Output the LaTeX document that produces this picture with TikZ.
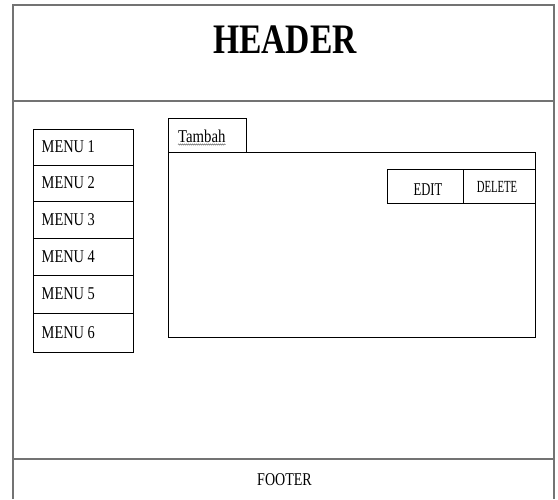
\documentclass[tikz,border=0pt]{standalone}
\usepackage{fontspec}
\setmainfont{Liberation Serif}
\usetikzlibrary{decorations.pathmorphing}
\begin{document}
\begin{tikzpicture}[x=1pt,y=-1pt,
  frame/.style={draw=gray!90!black,line width=2.2pt},
  box/.style={draw=black,line width=0.9pt,inner sep=0pt,rectangle},
  menutxt/.style={font=\fontsize{18}{20}\selectfont,xscale=0.8,anchor=west,inner sep=0pt},
  smalltxt/.style={font=\fontsize{18}{20}\selectfont,inner sep=0pt}]
\useasboundingbox (0,0) rectangle (558,499);
\fill[white] (0,0) rectangle (558,499);
% outer frame
\coordinate (tl) at (13,5);
\coordinate (tr) at (554,5);
\coordinate (bl) at (13,499);
\coordinate (br) at (554,499);
\coordinate (hl) at (13,101);
\coordinate (hr) at (554,101);
\coordinate (fl) at (13,459);
\coordinate (fr) at (554,459);
\draw[frame] (bl) -- (tl) -- (tr) -- (br);
\draw[frame] (hl) -- (hr);
\draw[frame] (fl) -- (fr);
\node[font=\bfseries\fontsize{42}{44}\selectfont,xscale=0.8,inner sep=0pt] (header) at (285,40) {HEADER};
\node[smalltxt,xscale=0.78] (footer) at (284.5,479.5) {FOOTER};
% menus
\foreach \i/\a/\b in {1/129/165,2/165/201,3/201/238,4/238/275,5/275/313,6/313/352}{
  \node[box,minimum width=100pt,minimum height={\b-\a}] (m\i) at (83,{(\a+\b)/2}) {};
  \node[menutxt] (mt\i) at ([xshift=9pt]m\i.west) {MENU \i};
}
% tab
\node[box,minimum width=78pt,minimum height=34pt] (tab) at (207,135) {};
\node[smalltxt,xscale=0.82,anchor=base west] (tabt) at (178,142) {Tambah};
\draw[gray,line width=0.6pt,decorate,decoration={snake,segment length=2pt,amplitude=0.6pt}] ([yshift=-2.5pt]tabt.base west) -- ([yshift=-2.5pt]tabt.base east);
% content
\node[box,minimum width=367pt,minimum height=185pt] (content) at (351.5,244.5) {};
% edit / delete
\node[box,minimum width=76pt,minimum height=34pt] (edit) at (425,186) {};
\node[box,minimum width=72pt,minimum height=34pt] (delete) at (499,186) {};
\node[smalltxt,xscale=0.7] (editt) at (428,189.5) {EDIT};
\node[smalltxt,font=\fontsize{17}{19}\selectfont,xscale=0.63] (deletet) at (497,186.5) {DELETE};
\end{tikzpicture}
\end{document}
